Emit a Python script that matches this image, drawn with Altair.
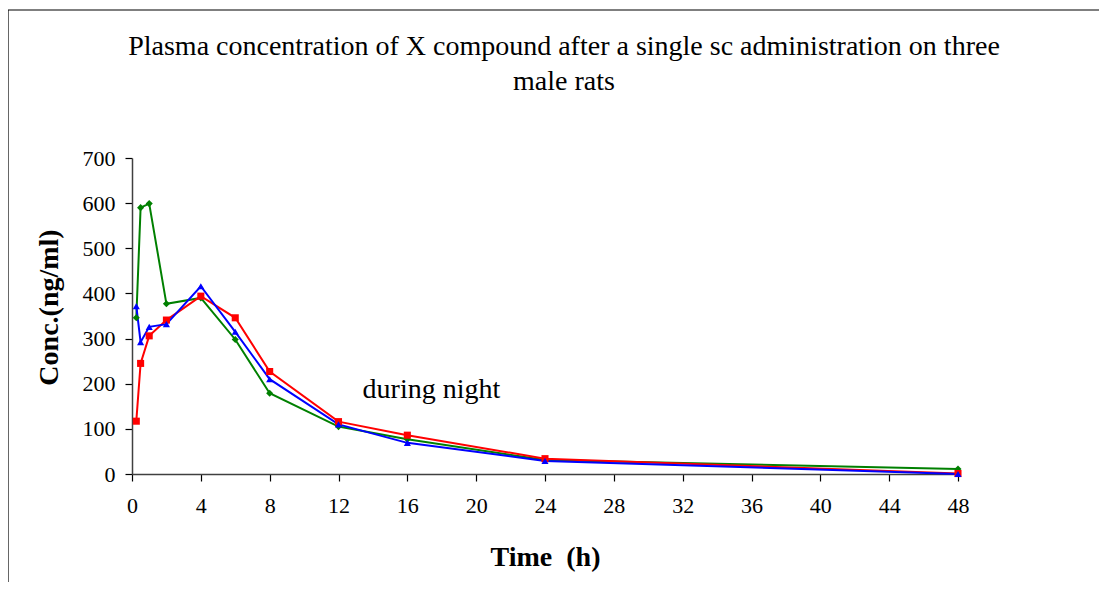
import altair as alt
import pandas as pd

times = [0.25, 0.5, 1, 2, 4, 6, 8, 12, 16, 24, 48]
rat_red = [117, 245, 306, 341, 394, 346, 227, 116, 86, 34, 1]
rat_green = [346, 590, 599, 377, 390, 298, 179, 105, 77, 31, 11]
rat_blue = [372, 292, 326, 332, 416, 315, 210, 110, 69, 29, 0]
series_names = ["Rat 1", "Rat 2", "Rat 3"]
series_colors = ["#008000", "#FF0000", "#0000FF"]
series_shapes = ["diamond", "square", "triangle-up"]
x_ticks = list(range(0, 49, 4))
y_ticks = list(range(0, 701, 100))
title_lines = ["Plasma concentration of X compound after a single sc administration on three", "male rats"]
note_text = "during night"
note_time, note_conc = 17.4, 186

rows = []
for name, vals in zip(series_names, [rat_green, rat_red, rat_blue]):
    for t, v in zip(times, vals):
        rows.append({"series": name, "time": t, "conc": v})
df = pd.DataFrame(rows)

FONT = "Liberation Serif"
color = alt.Color("series:N", scale=alt.Scale(domain=series_names, range=series_colors), legend=None)
shape = alt.Shape("series:N", scale=alt.Scale(domain=series_names, range=series_shapes), legend=None)
xenc = alt.X("time:Q", scale=alt.Scale(domain=[0, 48], nice=False),
             axis=alt.Axis(values=x_ticks, title="Time\u00a0\u00a0(h)", titleX=413, titleY=83,
                           titleBaseline="middle", titleAlign="center", labelPadding=14, labelFlush=False))
yenc = alt.Y("conc:Q", scale=alt.Scale(domain=[0, 700], nice=False),
             axis=alt.Axis(values=y_ticks, title="Conc.(ng/ml)", titleX=-83, titleY=149,
                           titleBaseline="middle", titleAlign="center", titleAngle=-90, labelPadding=10,
                           labelFlush=False))

single = pd.DataFrame({"a": [0]})
frame = alt.Chart(single).mark_rect(fill="white", fillOpacity=0, stroke="#000", strokeWidth=1.2).encode(
    x=alt.value(-124), x2=alt.value(1100), y=alt.value(-148), y2=alt.value(700)
)

title = alt.Chart(single).mark_text(
    font=FONT, fontSize=28, align="center", baseline="alphabetic", lineHeight=35, color="black"
).encode(x=alt.value(432), y=alt.value(-103), text=alt.value(title_lines))

lines = alt.Chart(df).mark_line(strokeWidth=2).encode(x=xenc, y=yenc, color=color, detail="series:N")
points = alt.Chart(df).mark_point(filled=True, opacity=1, size=50).encode(x="time:Q", y="conc:Q", color=color, shape=shape)

note = alt.Chart(pd.DataFrame({"t": [note_time], "c": [note_conc], "txt": [note_text]})).mark_text(
    font=FONT, fontSize=28, align="center", baseline="middle", color="black"
).encode(x="t:Q", y="c:Q", text="txt:N")

chart = alt.layer(frame, title, lines, points, note).properties(
    width=826, height=316,
    padding={"left": 124, "top": 150, "right": 141, "bottom": 108},
    autosize=alt.AutoSizeParams(type="none"),
).configure_view(stroke=None).configure_axis(
    labelFont=FONT, labelFontSize=22, labelColor="black", titleFont=FONT, titleFontSize=28,
    titleFontWeight="bold", titleColor="black", grid=False, domainColor="#404040", domainWidth=1.5,
    tickColor="black", tickSize=7, tickWidth=1.2
)

chart.save("out.html", embed_options={"renderer": "svg", "actions": False})
